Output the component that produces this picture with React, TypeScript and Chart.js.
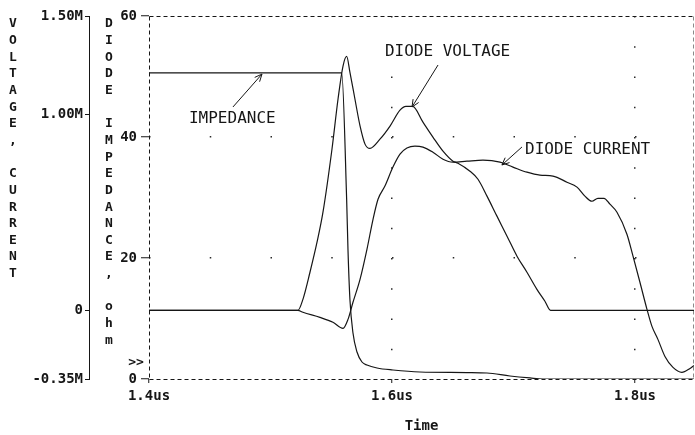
import React, { useEffect, useRef } from 'react';
import { Chart, registerables } from 'chart.js';

Chart.register(...registerables);

// ---- axis ticks ----
const X_TICKS = [1.4, 1.6, 1.8];
const X_TICK_LABELS = ['1.4us', '1.6us', '1.8us'];
const VC_TICKS = [-0.35, 0, 1.0, 1.5];
const VC_TICK_LABELS = ['-0.35M', '0', '1.00M', '1.50M'];
const Z_TICKS = [0, 20, 40, 60];
const Z_TICK_LABELS = ['0', '20', '40', '60'];

// ---- Diode voltage (time in us, value in M units) ----
const VOLTAGE_T = [
  1.4, 1.5226, 1.5267, 1.5325, 1.5383, 1.5432, 1.5506, 1.5556, 1.5597, 1.5627,
  1.5654, 1.5695, 1.5737, 1.5778, 1.5819, 1.5901, 1.5984, 1.6066, 1.6115, 1.617,
  1.6255, 1.6337, 1.642, 1.6502, 1.6543, 1.6642, 1.6708, 1.6782, 1.6864, 1.6947,
  1.7029, 1.7111, 1.7193, 1.7259, 1.7305, 1.8486,
];
const VOLTAGE_V = [
  0, 0, 0.056, 0.194, 0.347, 0.5, 0.821, 1.077, 1.245, 1.294,
  1.213, 1.077, 0.94, 0.847, 0.825, 0.872, 0.939, 1.02, 1.039, 1.039,
  0.959, 0.883, 0.811, 0.76, 0.75, 0.709, 0.668, 0.582, 0.48, 0.378,
  0.276, 0.194, 0.107, 0.046, 0, 0,
];

// ---- Diode current (time in us, value in M units) ----
const CURRENT_T = [
  1.4, 1.5226, 1.5267, 1.5407, 1.5514, 1.5597, 1.5638, 1.5679, 1.5737, 1.5794,
  1.5844, 1.5885, 1.5942, 1.6008, 1.6066, 1.6123, 1.6189, 1.6255, 1.6337, 1.642,
  1.6502, 1.6617, 1.6749, 1.6889, 1.6996, 1.7111, 1.7218, 1.7325, 1.744, 1.7523,
  1.7588, 1.7646, 1.7695, 1.7745, 1.7794, 1.7852, 1.7934, 1.7984, 1.8041, 1.8099,
  1.814, 1.8189, 1.8247, 1.8313, 1.8386, 1.8453, 1.8486,
];
const CURRENT_V = [
  0, 0, -0.01, -0.036, -0.061, -0.092, -0.046, 0.041, 0.158, 0.311,
  0.464, 0.566, 0.633, 0.73, 0.796, 0.827, 0.837, 0.832, 0.806, 0.77,
  0.755, 0.76, 0.765, 0.755, 0.73, 0.704, 0.689, 0.684, 0.653, 0.628,
  0.582, 0.556, 0.571, 0.571, 0.541, 0.5, 0.388, 0.276, 0.143, 0.005,
  -0.082, -0.148, -0.235, -0.291, -0.316, -0.296, -0.281,
];

// ---- Diode impedance (time in us, value in ohm) ----
const IMPEDANCE_T = [
  1.4, 1.5586, 1.5627, 1.5638, 1.5654, 1.5679, 1.5712, 1.5753, 1.5794, 1.5877,
  1.6008, 1.623, 1.6617, 1.6782, 1.6971, 1.7136, 1.7243, 1.8486,
];
const IMPEDANCE_V = [
  50.6, 50.6, 29.6, 21.3, 13.1, 7.6, 4.46, 2.81, 2.31, 1.82,
  1.49, 1.16, 1.07, 0.99, 0.5, 0.17, 0, 0,
];

// ---- annotations (data coordinates: time, ohm) ----
const ANNOTATION_TEXTS = ['IMPEDANCE', 'DIODE VOLTAGE', 'DIODE CURRENT'];
const ANNOTATION_AT = [
  [1.4329, 43.0],
  [1.5942, 54.05],
  [1.7095, 37.85],
];
const ARROW_FROM = [
  [1.4691, 44.96],
  [1.6379, 51.9],
  [1.707, 38.35],
];
const ARROW_TO = [
  [1.493, 50.4],
  [1.6165, 44.96],
  [1.6905, 35.37],
];

const LEFT_TITLE = 'VOLTAGE, CURRENT';
const INNER_TITLE = 'DIODE IMPEDANCE, ohm';

const INK = '#161616';
const MONO = '"DejaVu Sans Mono", monospace';
const tickFont = { family: '"DejaVu Sans Mono"', size: 14, weight: 'bold' as const };

const pts = (t: number[], v: number[]) => t.map((x, i) => ({ x, y: v[i] }));

const decorPlugin = {
  id: 'decor',
  beforeDatasetsDraw(chart: any) {
    const { ctx, chartArea: a } = chart;
    ctx.save();
    ctx.lineWidth = 1;
    ctx.setLineDash([4, 3]);
    const L = Math.round(a.left) + 0.5;
    const R = Math.round(a.right) - 0.5;
    const T = Math.round(a.top) + 0.5;
    const B = Math.round(a.bottom) + 0.5;
    ctx.strokeStyle = INK;
    ctx.beginPath(); ctx.moveTo(L, T); ctx.lineTo(R, T); ctx.stroke();
    ctx.beginPath(); ctx.moveTo(L, B); ctx.lineTo(R, B); ctx.stroke();
    ctx.beginPath(); ctx.moveTo(L, T); ctx.lineTo(L, B); ctx.stroke();
    ctx.strokeStyle = '#8a8a8a';
    ctx.beginPath(); ctx.moveTo(R, T); ctx.lineTo(R, B); ctx.stroke();
    ctx.restore();
  },
  afterDraw(chart: any) {
    const { ctx, scales } = chart;
    const xs = scales.x;
    const zs = scales.yz;
    const yv = scales.yv;
    ctx.save();
    // stacked axis titles
    ctx.fillStyle = INK;
    ctx.font = 'bold 13px ' + MONO;
    ctx.textAlign = 'center';
    ctx.textBaseline = 'middle';
    const top = chart.chartArea.top;
    const step = 16.65;
    LEFT_TITLE.split('').forEach((ch, i) => {
      ctx.fillText(ch, yv.left + 13, top + 8 + i * step);
    });
    INNER_TITLE.split('').forEach((ch, i) => {
      ctx.fillText(ch, zs.left + 20, top + 8 + i * step);
    });
    // >> marker
    ctx.fillText('>>', zs.left + 47, zs.getPixelForValue(2.65));

    // annotations
    ctx.font = '16px ' + MONO;
    ctx.textAlign = 'left';
    ANNOTATION_TEXTS.forEach((txt, i) => {
      const [t, z] = ANNOTATION_AT[i];
      ctx.fillText(txt, xs.getPixelForValue(t), zs.getPixelForValue(z));
    });
    ctx.strokeStyle = INK;
    ctx.lineWidth = 1;
    ARROW_FROM.forEach((f, i) => {
      const x0 = xs.getPixelForValue(f[0]);
      const y0 = zs.getPixelForValue(f[1]);
      const x1 = xs.getPixelForValue(ARROW_TO[i][0]);
      const y1 = zs.getPixelForValue(ARROW_TO[i][1]);
      const ang = Math.atan2(y1 - y0, x1 - x0);
      const hl = 8;
      ctx.beginPath();
      ctx.moveTo(x0, y0);
      ctx.lineTo(x1, y1);
      ctx.moveTo(x1 - hl * Math.cos(ang - 0.42), y1 - hl * Math.sin(ang - 0.42));
      ctx.lineTo(x1, y1);
      ctx.lineTo(x1 - hl * Math.cos(ang + 0.42), y1 - hl * Math.sin(ang + 0.42));
      ctx.stroke();
    });
    ctx.restore();
  },
};

export default function App() {
  const ref = useRef<HTMLCanvasElement | null>(null);

  useEffect(() => {
    if (!ref.current) return;
    const lineStyle = {
      borderColor: INK,
      backgroundColor: INK,
      borderWidth: 1.2,
      pointRadius: 0,
      fill: false,
      cubicInterpolationMode: 'monotone' as const,
    };
    const chart = new Chart(ref.current, {
      type: 'line',
      data: {
        datasets: [
          { ...lineStyle, label: 'DIODE VOLTAGE', data: pts(VOLTAGE_T, VOLTAGE_V), yAxisID: 'yv' },
          { ...lineStyle, label: 'DIODE CURRENT', data: pts(CURRENT_T, CURRENT_V), yAxisID: 'yv' },
          { ...lineStyle, label: 'IMPEDANCE', data: pts(IMPEDANCE_T, IMPEDANCE_V), yAxisID: 'yz' },
        ],
      },
      options: {
        responsive: false,
        animation: false,
        parsing: false as any,
        layout: { padding: { left: 0, right: 1, top: 16, bottom: 0 } },
        plugins: { legend: { display: false }, tooltip: { enabled: false } },
        scales: {
          x: {
            type: 'linear',
            position: 'bottom',
            min: 1.4,
            max: 1.8486,
            afterBuildTicks: (s: any) => { s.ticks = X_TICKS.map((v) => ({ value: v })); },
            afterFit: (s: any) => { s.height = 56; },
            ticks: {
              callback: (_v: any, i: number) => X_TICK_LABELS[i],
              font: tickFont,
              color: INK,
              padding: 5,
              maxRotation: 0,
              autoSkip: false,
            },
            grid: {
              color: (c: any) => (c.index === 1 || c.index === 2 ? '#2a2a2a' : 'transparent'),
              lineWidth: 1.5,
              tickColor: INK,
              tickWidth: 1,
              tickLength: 4,
            },
            border: { display: false, dash: [1.5, 28.75] },
            title: { display: true, text: 'Time', font: tickFont, color: INK, padding: 0 },
          },
          yz: {
            type: 'linear',
            position: 'left',
            weight: 0,
            min: 0,
            max: 60,
            afterBuildTicks: (s: any) => { s.ticks = Z_TICKS.map((v) => ({ value: v })); },
            afterFit: (s: any) => { s.width = 60; },
            ticks: {
              callback: (_v: any, i: number) => Z_TICK_LABELS[i],
              font: tickFont,
              color: INK,
              padding: 4,
            },
            grid: {
              color: (c: any) => (c.index === 1 || c.index === 2 ? '#2a2a2a' : 'transparent'),
              lineWidth: 1.5,
              tickColor: INK,
              tickWidth: 1,
              tickLength: 8,
            },
            border: { display: false, dash: [1.5, 59.25] },
          },
          yv: {
            type: 'linear',
            position: 'left',
            weight: 1,
            min: -0.35,
            max: 1.5,
            afterBuildTicks: (s: any) => { s.ticks = VC_TICKS.map((v) => ({ value: v })); },
            afterFit: (s: any) => { s.width = 89; },
            ticks: {
              callback: (_v: any, i: number) => VC_TICK_LABELS[i],
              font: tickFont,
              color: INK,
              padding: 2,
            },
            grid: {
              drawOnChartArea: false,
              color: INK,
              tickColor: INK,
              tickLength: 4,
              tickWidth: 1,
            },
            border: { display: true, color: INK, width: 1 },
          },
        },
      } as any,
      plugins: [decorPlugin],
    });
    return () => chart.destroy();
  }, []);

  return (
    <div style={{ position: 'absolute', left: 0, top: 0, width: 695, height: 435, background: '#fff' }}>
      <canvas ref={ref} width={695} height={435} style={{ display: 'block' }} />
    </div>
  );
}
